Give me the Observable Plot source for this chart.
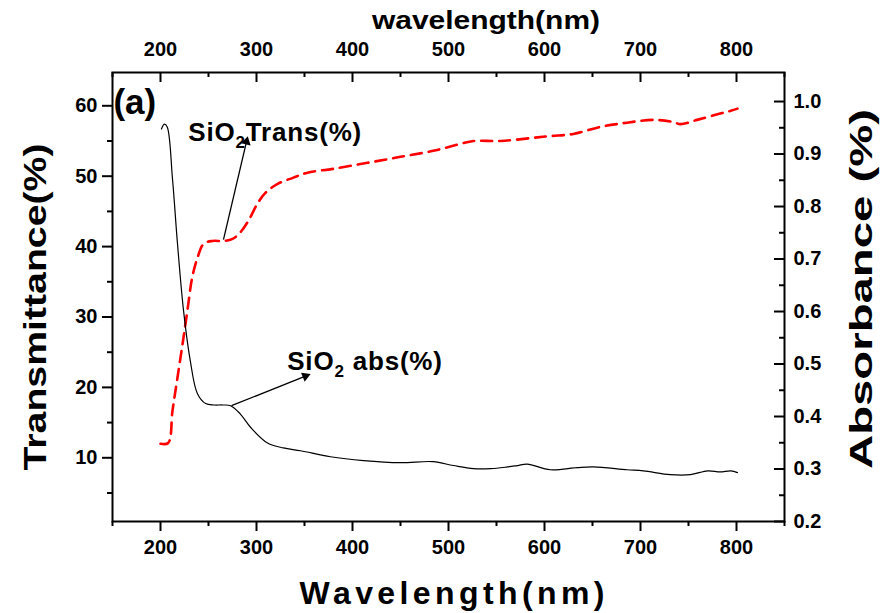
<!DOCTYPE html>
<html>
<head>
<meta charset="utf-8">
<script src="https://cdn.jsdelivr.net/npm/d3@7"></script>
<script src="https://cdn.jsdelivr.net/npm/@observablehq/plot@0.6"></script>
<style>
  html, body { margin: 0; padding: 0; background: white; }
</style>
</head>
<body>
<div id="chart"></div>
<script>
// Black solid curve (absorbance), values read on the left scale
const wlAbs = [201,204,207,212.5,217.7,224,231,238.5,247,256,264.6,273,283,294,311.5,328,346,377,411.5,450,484,505,526,544,561.5,572,582,606,634,651,686,703,731,752,770,783,794,801];
const absVals = [56.7,57.4,57.0,49.6,40.4,30.9,23.8,19.1,17.7,17.5,17.5,17.4,16.25,14.3,12.1,11.4,11.0,10.15,9.6,9.3,9.45,8.9,8.45,8.45,8.7,8.9,9.1,8.3,8.6,8.7,8.3,8.15,7.6,7.6,8.15,8.0,8.15,7.9];

// Red dashed curve (transmittance)
const wlTr = [200,208,212.5,217.7,223,228,233,238.5,245,254,265.6,275,283,291.7,301,309,322,338.5,353,380,415.6,450,484,512.5,526,554,588.5,606,630,658,686,713.5,734,741.7,759,783,794,801];
const trVals = [12.0,12.1,16.7,21.4,26.2,30.9,35.6,38.4,40.4,40.8,40.8,41.1,42.0,43.7,46.1,47.6,48.9,49.8,50.5,51.05,51.9,52.75,53.6,54.6,55.0,55.0,55.45,55.7,56.0,57.0,57.6,58.0,57.7,57.4,58.0,58.9,59.3,59.6];

// Ticks
const xMajor = [200,300,400,500,600,700,800];
const xMinor = [150,250,350,450,550,650,750,850];
const yMajor = [10,20,30,40,50,60];
const yMinor = [5,15,25,35,45,55];
const rMajor = [0.2,0.3,0.4,0.5,0.6,0.7,0.8,0.9,1.0];
const rMinor = [0.25,0.35,0.45,0.55,0.65,0.75,0.85,0.95];

// Texts
const titleTop = "wavelength(nm)";
const titleBottom = "Wavelength(nm)";
const titleLeft = "Transmittance(%)";
const titleRight = "Absorbance (%)";
const panelLabel = "(a)";

// Right axis (Absorbance) mapped onto left scale
const toLeft = r => 0.95 + (r - 0.2) * 74.57;
const toRight = v => (v - 0.95) / 74.57 + 0.2;

const absData = wlAbs.map((w, i) => ({w, v: absVals[i]}));
const trData = wlTr.map((w, i) => ({w, v: trVals[i]}));

const W = 881, H = 613, mL = 112, mR = 97, mT = 72, mB = 92;
const fw = W - mL - mR, fh = H - mT - mB;

const arrows = [
  {x1: 265.6, y1: 41.0, x2: 289.6, y2: 54.9, rot: 13},
  {x1: 274, y1: 17.4, x2: 351, y2: 21.6, rot: 68}
];

const fontFam = "'Liberation Sans', Arial, Helvetica, sans-serif";

const plot = Plot.plot({
  width: W, height: H,
  marginLeft: mL, marginRight: mR, marginTop: mT, marginBottom: mB,
  x: {domain: [150, 850], axis: null},
  y: {domain: [0.95, 64.73], axis: null},
  style: {fontFamily: fontFam, fontWeight: "bold", background: "white", color: "black"},
  marks: [
    // bottom axis
    Plot.axisX({anchor: "bottom", ticks: xMajor, tickSize: 10, tickPadding: 8, fontSize: 20, strokeWidth: 2, label: null, tickFormat: d => String(d)}),
    Plot.axisX({anchor: "bottom", ticks: xMinor, tickSize: 5, strokeWidth: 2, label: null, tickFormat: () => ""}),
    // top axis (inward ticks)
    Plot.axisX({anchor: "top", ticks: xMajor, tickSize: 0, tickPadding: 17, fontSize: 20, label: null, tickFormat: d => String(d)}),
    Plot.tickX(xMajor, {x: d => d, insetBottom: fh - 10, strokeWidth: 2}),
    Plot.tickX(xMinor, {x: d => d, insetBottom: fh - 5, strokeWidth: 2}),
    // left axis
    Plot.axisY({anchor: "left", ticks: yMajor, tickSize: 10, tickPadding: 5, fontSize: 20, strokeWidth: 2, label: null, tickFormat: d => String(d)}),
    Plot.axisY({anchor: "left", ticks: yMinor, tickSize: 5, strokeWidth: 2, label: null, tickFormat: () => ""}),
    // right axis (inward ticks)
    Plot.axisY({anchor: "right", ticks: rMajor.map(toLeft), tickSize: 0, tickPadding: 9, fontSize: 20, label: null, tickFormat: v => toRight(v).toFixed(1)}),
    Plot.tickY(rMajor.map(toLeft), {y: d => d, insetLeft: fw - 10, strokeWidth: 2}),
    Plot.tickY(rMinor.map(toLeft), {y: d => d, insetLeft: fw - 5, strokeWidth: 2}),
    Plot.frame({stroke: "black", strokeWidth: 2}),
    // curves
    Plot.line(trData, {x: "w", y: "v", stroke: "#ff0000", strokeWidth: 2.6, strokeDasharray: "11,7", curve: "catmull-rom"}),
    Plot.line(absData, {x: "w", y: "v", stroke: "black", strokeWidth: 1.2, curve: "catmull-rom"}),
    // annotation arrows
    Plot.link(arrows, {x1: "x1", y1: "y1", x2: "x2", y2: "y2", stroke: "black", strokeWidth: 1.3}),
    Plot.dot(arrows, {x: "x2", y: "y2", symbol: "triangle", r: 3.6, fill: "black", stroke: "none", rotate: "rot"}),
    // annotation texts
    Plot.text([panelLabel], {x: 151, y: 60.4, text: d => d, textAnchor: "start", fontSize: 35, fontWeight: "bold"}),
    Plot.text(["SiO2Trans(%)"], {x: 229, y: 56.2, text: d => d, textAnchor: "start", fontSize: 26, fontWeight: "bold"}),
    Plot.text(["SiO2 abs(%)"], {x: 332, y: 23.6, text: d => d, textAnchor: "start", fontSize: 26, fontWeight: "bold"})
  ]
});

document.getElementById("chart").appendChild(plot);

// Post-process: subscripts
const svg = d3.select(plot);
svg.selectAll("text").each(function() {
  const t = this.textContent;
  const sel = d3.select(this);
  if (t.startsWith("SiO2")) {
    const rest = t.slice(4);
    sel.text(null).attr("xml:space", "preserve").attr("letter-spacing", "0.8px");
    sel.append("tspan").text("SiO");
    sel.append("tspan").attr("font-size", "17").attr("dy", "7").text("2");
    sel.append("tspan").attr("dy", "-7").text(rest);
  }
});

// Axis titles
const titles = [
  {t: titleTop, x: 486, y: 20, size: 26, len: 228, rot: 0, adj: "spacingAndGlyphs"},
  {t: titleBottom, x: 452, y: 593, size: 32, len: 305, rot: 0, adj: "spacing"},
  {t: titleLeft, x: 35, y: 307, size: 32, len: 327, rot: -90, adj: "spacingAndGlyphs"},
  {t: titleRight, x: 861, y: 289, size: 32, len: 360, rot: -90, adj: "spacingAndGlyphs"}
];
const tg = svg.append("g").attr("font-family", fontFam).attr("font-weight", "bold").attr("fill", "black");
titles.forEach(d => {
  tg.append("text")
    .attr("transform", `translate(${d.x},${d.y}) rotate(${d.rot})`)
    .attr("text-anchor", "middle")
    .attr("dominant-baseline", "central")
    .attr("font-size", d.size)
    .attr("textLength", d.len)
    .attr("lengthAdjust", d.adj)
    .text(d.t);
});
</script>
</body>
</html>
